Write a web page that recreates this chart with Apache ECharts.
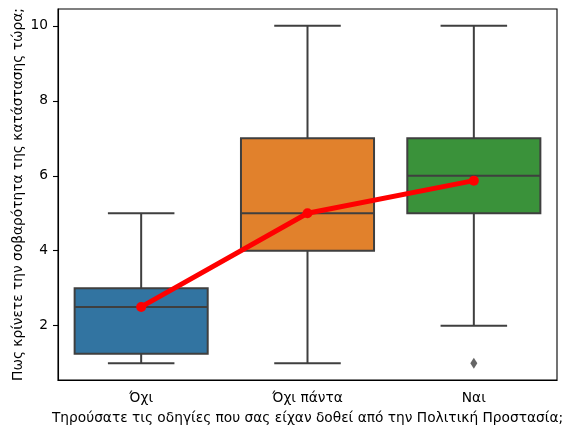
<!DOCTYPE html>
<html><head><meta charset="utf-8">
<script src="https://cdn.jsdelivr.net/npm/echarts@6/dist/echarts.min.js"></script>
<style>html,body{margin:0;padding:0;background:#fff}#c{width:562px;height:429px}</style>
</head><body><div id="c"></div>
<script>
const categories = ['Όχι', 'Όχι πάντα', 'Ναι'];
// [whiskerLow, Q1, median, Q3, whiskerHigh]
const boxStats = [
  [1, 1.25, 2.5, 3.0, 5],
  [1, 4, 5, 7, 10],
  [2, 5, 6, 7, 10]
];
const outliers = [[2, 1]];
const means = [2.5, 5.0, 5.87];
const boxColors = ['#3274a1', '#e1812c', '#3a923a'];
const yTicks = [2, 4, 6, 8, 10];
const xTitle = 'Τηρούσατε τις οδηγίες που σας είχαν δοθεί από την Πολιτική Προστασία;';
const yTitle = 'Πως κρίνετε την σοβαρότητα της κατάστασης τώρα;';

const FONT = 'DejaVu Sans';
const FS = 13.75;
const EDGE = '#3f3f3f';
const chart = echarts.init(document.getElementById('c'), null, {renderer: 'canvas'});

const boxData = boxStats.map((s, i) => [i, ...s]);

chart.setOption({
  animation: false,
  grid: {left: 58, right: 5, top: 9, bottom: 49, outerBoundsMode: 'none', containLabel: false,
         show: true, borderColor: '#000', borderWidth: 1.1, backgroundColor: 'transparent'},
  xAxis: {
    type: 'category', data: categories, boundaryGap: true,
    axisLine: {lineStyle: {color: '#000', width: 1.1}},
    axisTick: {alignWithLabel: true, length: 5, lineStyle: {color: '#000', width: 1.1}},
    axisLabel: {color: '#000', fontFamily: FONT, fontSize: FS, margin: 11},
    name: xTitle, nameLocation: 'middle', nameGap: 31, nameMoveOverlap: false,
    nameTextStyle: {color: '#000', fontFamily: FONT, fontSize: FS}
  },
  yAxis: {
    type: 'value', min: 0.55, max: 10.45,
    splitLine: {show: false},
    axisLine: {show: true, lineStyle: {color: '#000', width: 1.1}},
    axisTick: {show: true, length: 5, customValues: yTicks, lineStyle: {color: '#000', width: 1.1}},
    axisLabel: {color: '#000', fontFamily: FONT, fontSize: FS, margin: 10, customValues: yTicks},
    name: yTitle, nameLocation: 'middle', nameGap: 33, nameMoveOverlap: false,
    nameTextStyle: {color: '#000', fontFamily: FONT, fontSize: FS}
  },
  series: [
    {
      type: 'custom',
      data: boxData,
      encode: {x: 0, y: [1, 2, 3, 4, 5]},
      z: 2,
      renderItem: function (params, api) {
        const x = api.value(0);
        const bw = api.size([1, 0])[0] * 0.8;
        const cx = api.coord([x, 0])[0];
        const py = v => api.coord([x, v])[1];
        const lo = py(api.value(1)), q1 = py(api.value(2)), med = py(api.value(3)), q3 = py(api.value(4)), hi = py(api.value(5));
        const ls = {stroke: EDGE, lineWidth: 2};
        const cap = bw / 4;
        return {
          type: 'group',
          children: [
            {type: 'line', shape: {x1: cx, y1: q3, x2: cx, y2: hi}, style: ls},
            {type: 'line', shape: {x1: cx, y1: q1, x2: cx, y2: lo}, style: ls},
            {type: 'line', shape: {x1: cx - cap, y1: hi, x2: cx + cap, y2: hi}, style: ls},
            {type: 'line', shape: {x1: cx - cap, y1: lo, x2: cx + cap, y2: lo}, style: ls},
            {type: 'rect', shape: {x: cx - bw / 2, y: q3, width: bw, height: q1 - q3}, style: {fill: boxColors[params.dataIndex], stroke: EDGE, lineWidth: 2}},
            {type: 'line', shape: {x1: cx - bw / 2, y1: med, x2: cx + bw / 2, y2: med}, style: ls}
          ]
        };
      }
    },
    {
      type: 'scatter',
      data: outliers,
      symbol: 'diamond', symbolSize: [7, 11],
      itemStyle: {color: EDGE},
      z: 3
    },
    {
      type: 'line',
      data: means,
      symbol: 'circle', symbolSize: 10,
      lineStyle: {color: '#ff0000', width: 5},
      itemStyle: {color: '#ff0000'},
      z: 5
    }
  ]
});
</script></body></html>
